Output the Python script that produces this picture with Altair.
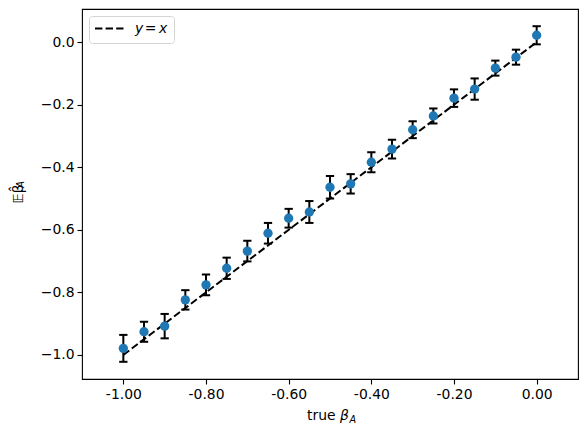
import altair as alt
import pandas as pd

# ---- data ----
true_beta = [-1.00, -0.95, -0.90, -0.85, -0.80, -0.75, -0.70, -0.65, -0.60, -0.55,
             -0.50, -0.45, -0.40, -0.35, -0.30, -0.25, -0.20, -0.15, -0.10, -0.05, 0.00]
est_beta = [-0.979, -0.926, -0.908, -0.824, -0.776, -0.723, -0.668, -0.611, -0.563, -0.543,
            -0.464, -0.453, -0.384, -0.342, -0.280, -0.236, -0.179, -0.150, -0.083, -0.048, 0.022]
err_beta = [0.043, 0.032, 0.039, 0.031, 0.033, 0.034, 0.033, 0.033, 0.030, 0.035,
            0.036, 0.031, 0.032, 0.030, 0.027, 0.024, 0.028, 0.034, 0.024, 0.024, 0.029]
ref_x = [-1.0, 0.0]
ref_y = [-1.0, 0.0]
x_ticks = [-1.0, -0.8, -0.6, -0.4, -0.2, 0.0]
y_ticks = [-1.0, -0.8, -0.6, -0.4, -0.2, 0.0]
legend_label = ["y", "=", "x"]
x_title = ["true", "β", "A"]
y_title = ["𝔼β̂", "A"]

pts = pd.DataFrame({"x": true_beta, "y": est_beta, "e": err_beta})
pts["lo"] = pts["y"] - pts["e"]
pts["hi"] = pts["y"] + pts["e"]
ref = pd.DataFrame({"x": ref_x, "y": ref_y})
one = pd.DataFrame({"k": [0]})

FONT = "DejaVu Sans"
FS = 13.9

xs = alt.Scale(domain=[-1.1, 0.1], nice=False, zero=False)
ys = alt.Scale(domain=[-1.077, 0.106], nice=False, zero=False)

xaxis = alt.Axis(values=x_ticks, title=None, grid=False, domain=False,
                 labelExpr="replace(format(datum.value, '.2f'), '\u2212', '-')",
                 tickColor="black", tickSize=5, tickWidth=1.1, labelPadding=3,
                 labelColor="black", labelFont=FONT, labelFontSize=FS)
yaxis = alt.Axis(values=y_ticks, title=None, grid=False, domain=False, format=".1f",
                 tickColor="black", tickSize=5, tickWidth=1.1, labelPadding=3,
                 labelColor="black", labelFont=FONT, labelFontSize=FS)

line = alt.Chart(ref).mark_line(color="black", strokeWidth=2, strokeDash=[7.4, 3.2]).encode(
    x=alt.X("x:Q", scale=xs, axis=xaxis),
    y=alt.Y("y:Q", scale=ys, axis=yaxis),
)

bars = alt.Chart(pts).mark_rule(color="black", strokeWidth=2, opacity=1).encode(
    x=alt.X("x:Q", scale=xs), y=alt.Y("lo:Q", scale=ys), y2="hi:Q")
cap_lo = alt.Chart(pts).mark_tick(color="black", orient="horizontal", size=8.3, thickness=2,
                                  opacity=1).encode(
    x=alt.X("x:Q", scale=xs), y=alt.Y("lo:Q", scale=ys))
cap_hi = alt.Chart(pts).mark_tick(color="black", orient="horizontal", size=8.3, thickness=2,
                                  opacity=1).encode(
    x=alt.X("x:Q", scale=xs), y=alt.Y("hi:Q", scale=ys))

dots = alt.Chart(pts).mark_point(filled=True, shape="circle", size=87, color="#1f77b4", opacity=1).encode(
    x=alt.X("x:Q", scale=xs), y=alt.Y("y:Q", scale=ys))

# legend (upper left)
leg_box = alt.Chart(one).mark_rect(fill="white", stroke="#d4d4d4", strokeWidth=1, cornerRadius=3,
                                   fillOpacity=0.8).encode(
    x=alt.value(7.5), x2=alt.value(92.5), y=alt.value(7.5), y2=alt.value(34.5))
leg_line = alt.Chart(one).mark_rule(color="black", strokeWidth=2, strokeDash=[7.4, 3.2]).encode(
    x=alt.value(13), x2=alt.value(41.5), y=alt.value(19.5))
leg_y = alt.Chart(one).mark_text(text=legend_label[0], font=FONT, fontSize=FS, fontStyle="italic",
                                 align="left", baseline="middle", color="black").encode(
    x=alt.value(53), y=alt.value(19.5))
leg_eq = alt.Chart(one).mark_text(text=legend_label[1], font=FONT, fontSize=FS,
                                  align="center", baseline="middle", color="black").encode(
    x=alt.value(68.5), y=alt.value(20))
leg_x = alt.Chart(one).mark_text(text=legend_label[2], font=FONT, fontSize=FS, fontStyle="italic",
                                 align="center", baseline="middle", color="black").encode(
    x=alt.value(81), y=alt.value(20))

# axis titles
xt1 = alt.Chart(one).mark_text(text=x_title[0], font=FONT, fontSize=FS, align="left",
                               baseline="middle", color="black").encode(x=alt.value(225), y=alt.value(407))
xt2 = alt.Chart(one).mark_text(text=x_title[1], font=FONT, fontSize=FS, fontStyle="italic", align="left",
                               baseline="middle", color="black").encode(x=alt.value(258), y=alt.value(407))
xt3 = alt.Chart(one).mark_text(text=x_title[2], font=FONT, fontSize=9.7, fontStyle="italic", align="left",
                               baseline="middle", color="black").encode(x=alt.value(267.5), y=alt.value(411))
yt1 = alt.Chart(one).mark_text(text=y_title[0], font=FONT, fontSize=FS, angle=270, align="center",
                               baseline="middle", color="black").encode(x=alt.value(-63.5), y=alt.value(185))
yt2 = alt.Chart(one).mark_text(text=y_title[1], font=FONT, fontSize=9.7, fontStyle="italic", angle=270,
                               align="center", baseline="middle", color="black").encode(
    x=alt.value(-61), y=alt.value(175.5))

chart = alt.layer(line, bars, cap_lo, cap_hi, dots, leg_box, leg_line, leg_y, leg_eq, leg_x,
                  xt1, xt2, xt3, yt1, yt2).properties(
    width=496, height=370,
    autosize=alt.AutoSizeParams(type="none"),
    padding={"left": 74, "top": 1, "right": 2, "bottom": 45},
    background="white",
).configure_view(stroke="black", strokeWidth=1.1)

chart.save("out.html", embed_options={"renderer": "svg", "actions": False})
